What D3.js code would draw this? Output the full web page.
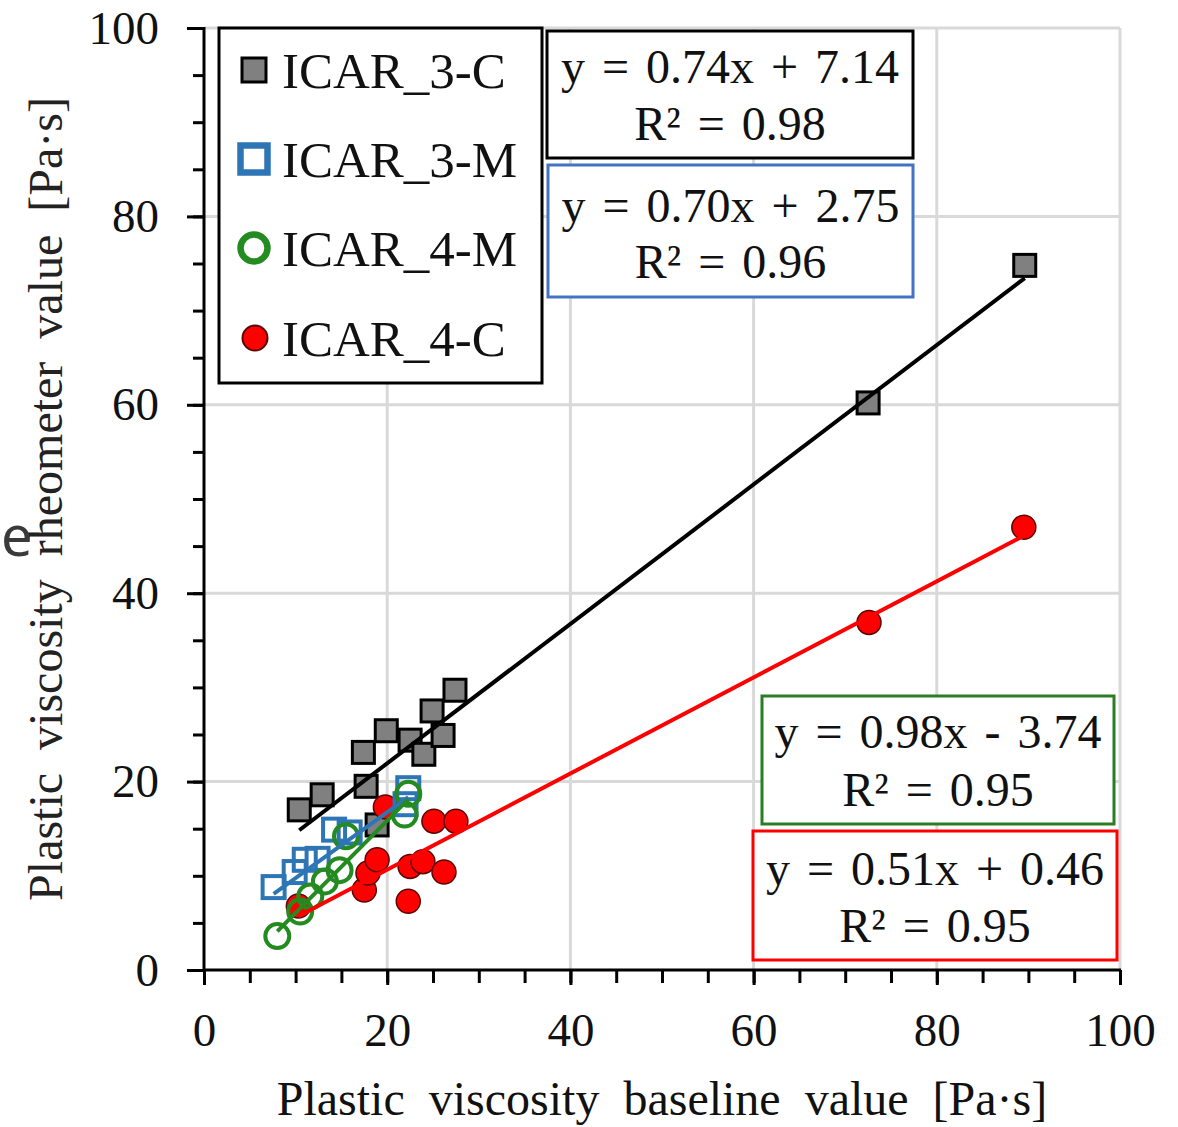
<!DOCTYPE html>
<html>
<head>
<meta charset="utf-8">
<script src="https://cdn.jsdelivr.net/npm/d3@7"></script>
<style>
  html, body { margin: 0; padding: 0; background: #fff; }
  svg { display: block; }
  text { font-family: "Liberation Serif", "Times New Roman", serif; }
</style>
</head>
<body>
<svg id="chart" width="1178" height="1127"></svg>
<script>
// Plastic viscosity: rheometer reading vs. baseline value [Pa·s]
const seriesNames = ["ICAR_3-C", "ICAR_3-M", "ICAR_4-M", "ICAR_4-C"];

const icar3C_x = [10.4, 12.9, 17.4, 17.7, 18.9, 19.9, 22.5, 24.0, 24.9, 26.1, 27.4, 72.5, 89.6];
const icar3C_y = [17.0, 18.6, 23.1, 19.5, 15.4, 25.4, 24.4, 22.9, 27.5, 24.9, 29.7, 60.2, 74.8];

const icar3M_x = [7.6, 9.9, 11.0, 12.4, 14.2, 15.9, 22.0, 22.3];
const icar3M_y = [8.8, 10.4, 11.7, 11.8, 14.9, 14.6, 17.6, 19.3];

const icar4M_x = [8.0, 10.5, 11.6, 13.2, 14.8, 15.5, 21.9, 22.3];
const icar4M_y = [3.6, 6.2, 7.8, 9.4, 10.6, 14.2, 16.5, 18.7];

const icar4C_x = [10.3, 17.5, 17.9, 18.9, 19.8, 22.3, 22.5, 23.9, 25.1, 26.2, 27.5, 72.6, 89.5];
const icar4C_y = [6.8, 8.5, 10.3, 11.7, 17.3, 7.3, 11.0, 11.5, 15.8, 10.4, 15.8, 36.9, 47.0];

// Linear trendlines y = a·x + b and their R²
const fitSlopes = [0.74, 0.70, 0.98, 0.51];
const fitIntercepts = [7.14, 2.75, -3.74, 0.46];
const fitR2 = [0.98, 0.96, 0.95, 0.95];

const xTicks = [0, 20, 40, 60, 80, 100];
const yTicks = [0, 20, 40, 60, 80, 100];
const minorStep = 5;

const xTitle = "Plastic viscosity baseline value [Pa·s]";
const yTitle = "Plastic viscosity rheometer value [Pa·s]";

// ---------------------------------------------------------------
const svg = d3.select("#chart");
const plotLeft = 204, plotRight = 1120, plotTop = 28, plotBottom = 970;

const x = d3.scaleLinear().domain([0, 100]).range([plotLeft, plotRight]);
const y = d3.scaleLinear().domain([0, 100]).range([plotBottom, plotTop]);

const colors = {
  c3: { fill: "#808080", stroke: "#000000" },
  m3: { stroke: "#2e75b6" },
  m4: { stroke: "#238b1f" },
  c4: { fill: "#ff0000", stroke: "#5a0606" }
};
const lineColors = ["#000000", "#2e75b6", "#238b1f", "#ff0000"];
const boxColors = ["#000000", "#4472c4", "#2a7d23", "#ff0000"];

// Gridlines
const grid = svg.append("g");
grid.selectAll("line.v").data(xTicks.filter(d => d > 0)).join("line")
  .attr("class", "v")
  .attr("x1", d => x(d)).attr("x2", d => x(d))
  .attr("y1", y(0)).attr("y2", y(100))
  .attr("stroke", "#d9d9d9").attr("stroke-width", 3);
grid.selectAll("line.h").data(yTicks.filter(d => d > 0)).join("line")
  .attr("class", "h")
  .attr("x1", x(0)).attr("x2", x(100))
  .attr("y1", d => y(d)).attr("y2", d => y(d))
  .attr("stroke", "#d9d9d9").attr("stroke-width", 3);

// Axes (major ticks with labels, minor ticks without)
const minorVals = d3.range(0, 100 + 0.001, minorStep);

const xAxisG = svg.append("g").attr("transform", `translate(0,${y(0)})`);
xAxisG.append("g")
  .call(d3.axisBottom(x).tickValues(minorVals).tickSize(13).tickFormat(""))
  .call(g => g.select(".domain").remove());
xAxisG.append("g")
  .call(d3.axisBottom(x).tickValues(xTicks).tickSize(15).tickPadding(28).tickFormat(d3.format("d")))
  .call(g => g.select(".domain").remove());
xAxisG.selectAll(".tick line").attr("stroke", "#000").attr("stroke-width", 3);
xAxisG.selectAll(".tick text").attr("font-size", 47).attr("fill", "#111");
xAxisG.append("line").attr("x1", x(0) - 1).attr("x2", x(100) + 1)
  .attr("stroke", "#000").attr("stroke-width", 3);

const yAxisG = svg.append("g").attr("transform", `translate(${x(0)},0)`);
yAxisG.append("g")
  .call(d3.axisLeft(y).tickValues(minorVals).tickSize(11).tickFormat(""))
  .call(g => g.select(".domain").remove());
yAxisG.append("g")
  .call(d3.axisLeft(y).tickValues(yTicks).tickSize(17).tickPadding(28).tickFormat(d3.format("d")))
  .call(g => g.select(".domain").remove());
yAxisG.selectAll(".tick line").attr("stroke", "#000").attr("stroke-width", 3);
yAxisG.selectAll(".tick text").attr("font-size", 47).attr("fill", "#111");
yAxisG.append("line").attr("y1", y(100) - 1).attr("y2", y(0) + 1)
  .attr("stroke", "#000").attr("stroke-width", 3);

// Axis titles
svg.append("text")
  .attr("x", (plotLeft + plotRight) / 2).attr("y", 1115)
  .attr("text-anchor", "middle").attr("font-size", 48).attr("word-spacing", 12)
  .attr("fill", "#111").text(xTitle);
svg.append("text")
  .attr("transform", `translate(62,${(plotTop + plotBottom) / 2}) rotate(-90)`)
  .attr("text-anchor", "middle").attr("font-size", 48).attr("word-spacing", 11)
  .attr("fill", "#222").text(yTitle);
svg.append("text")
  .attr("x", 1).attr("y", 556)
  .style("font-family", "'Noto Sans', 'DejaVu Sans', sans-serif")
  .attr("font-size", 56)
  .attr("fill", "#3a3a3a").text("e");

// Markers
const pts = (xs, ys) => xs.map((v, i) => [v, ys[i]]);
const sqSize = 22;

svg.append("g").selectAll("rect").data(pts(icar3C_x, icar3C_y)).join("rect")
  .attr("x", d => x(d[0]) - sqSize / 2).attr("y", d => y(d[1]) - sqSize / 2)
  .attr("width", sqSize).attr("height", sqSize)
  .attr("fill", colors.c3.fill).attr("stroke", colors.c3.stroke).attr("stroke-width", 3);

svg.append("g").selectAll("circle").data(pts(icar4C_x, icar4C_y)).join("circle")
  .attr("cx", d => x(d[0])).attr("cy", d => y(d[1])).attr("r", 12)
  .attr("fill", colors.c4.fill).attr("stroke", colors.c4.stroke).attr("stroke-width", 1.5);

svg.append("g").selectAll("rect").data(pts(icar3M_x, icar3M_y)).join("rect")
  .attr("x", d => x(d[0]) - sqSize / 2).attr("y", d => y(d[1]) - sqSize / 2)
  .attr("width", sqSize).attr("height", sqSize)
  .attr("fill", "none").attr("stroke", colors.m3.stroke).attr("stroke-width", 4);

svg.append("g").selectAll("circle").data(pts(icar4M_x, icar4M_y)).join("circle")
  .attr("cx", d => x(d[0])).attr("cy", d => y(d[1])).attr("r", 12)
  .attr("fill", "none").attr("stroke", colors.m4.stroke).attr("stroke-width", 4);

// Trendlines over each series' x range
const seriesX = [icar3C_x, icar3M_x, icar4M_x, icar4C_x];
const lineOrder = [0, 3, 1, 2];
svg.append("g").selectAll("line").data(lineOrder).join("line")
  .attr("x1", i => x(d3.min(seriesX[i])))
  .attr("y1", i => y(fitSlopes[i] * d3.min(seriesX[i]) + fitIntercepts[i]))
  .attr("x2", i => x(d3.max(seriesX[i])))
  .attr("y2", i => y(fitSlopes[i] * d3.max(seriesX[i]) + fitIntercepts[i]))
  .attr("stroke", i => lineColors[i]).attr("stroke-width", 4);

// Legend
const legend = svg.append("g");
legend.append("rect").attr("x", 219).attr("y", 28).attr("width", 323).attr("height", 355)
  .attr("fill", "#fff").attr("stroke", "#000").attr("stroke-width", 3);
const legendY = [70, 159, 248, 338];
const lx = 254;
legend.append("rect").attr("x", lx - 12).attr("y", legendY[0] - 12).attr("width", 24).attr("height", 24)
  .attr("fill", colors.c3.fill).attr("stroke", "#000").attr("stroke-width", 3);
legend.append("rect").attr("x", lx - 13.5).attr("y", legendY[1] - 13.5).attr("width", 27).attr("height", 27)
  .attr("fill", "none").attr("stroke", colors.m3.stroke).attr("stroke-width", 6.5);
legend.append("circle").attr("cx", lx).attr("cy", legendY[2]).attr("r", 13.5)
  .attr("fill", "none").attr("stroke", colors.m4.stroke).attr("stroke-width", 6.5);
legend.append("circle").attr("cx", lx + 1).attr("cy", legendY[3]).attr("r", 12.5)
  .attr("fill", colors.c4.fill).attr("stroke", colors.c4.stroke).attr("stroke-width", 2);
legend.selectAll("text").data(seriesNames).join("text")
  .attr("x", 282).attr("y", (d, i) => legendY[i] + 18)
  .attr("font-size", 51).attr("fill", "#111").text(d => d);

// Trendline equation boxes
const fmt = d3.format(".2f");
const eqText = i => `y = ${fmt(fitSlopes[i])}x ${fitIntercepts[i] < 0 ? "-" : "+"} ${fmt(Math.abs(fitIntercepts[i]))}`;
const r2Text = i => `R² = ${fmt(fitR2[i])}`;
const boxes = [
  { i: 0, x0: 547, y0: 31, x1: 913, y1: 158, b1: 83, b2: 140 },
  { i: 1, x0: 548, y0: 165, x1: 913, y1: 297, b1: 222, b2: 278 },
  { i: 2, x0: 762, y0: 696, x1: 1114, y1: 824, b1: 748, b2: 806 },
  { i: 3, x0: 753, y0: 831, x1: 1117, y1: 960, b1: 885, b2: 942 }
];
const bg = svg.append("g").selectAll("g").data(boxes).join("g");
bg.append("rect")
  .attr("x", d => d.x0).attr("y", d => d.y0)
  .attr("width", d => d.x1 - d.x0).attr("height", d => d.y1 - d.y0)
  .attr("fill", "#fff").attr("stroke", d => boxColors[d.i]).attr("stroke-width", 3);
bg.append("text")
  .attr("x", d => (d.x0 + d.x1) / 2).attr("y", d => d.b1)
  .attr("text-anchor", "middle").attr("font-size", 48).attr("word-spacing", 5).attr("fill", "#111")
  .text(d => eqText(d.i));
bg.append("text")
  .attr("x", d => (d.x0 + d.x1) / 2).attr("y", d => d.b2)
  .attr("text-anchor", "middle").attr("font-size", 48).attr("word-spacing", 5).attr("fill", "#111")
  .text(d => r2Text(d.i));
</script>
</body>
</html>
